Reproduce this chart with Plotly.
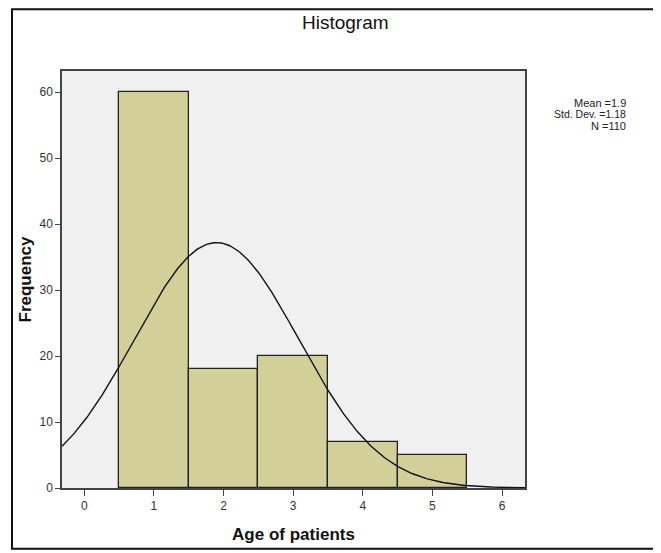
import numpy as np
import plotly.graph_objects as go

ages = [1, 2, 3, 4, 5]
freqs = [60, 18, 20, 7, 5]
mean_val = 1.9
sd_val = 1.18
n_val = 110
x_ticks = [0, 1, 2, 3, 4, 5, 6]
y_ticks = [0, 10, 20, 30, 40, 50, 60]

xr = [-0.32, 6.33]
yr = [0, 63.2]

# page offset (browser body margin) compensation
OFF = 8
W, H = 661 - OFF, 553 - OFF
PL, PR, PT, PB = 62 - OFF, 525 - OFF, 71 - OFF, 490 - OFF
pw, ph = PR - PL, PB - PT


def px(x):
    return (x - OFF - PL) / pw


def py(y):
    return (PB - (y - OFF)) / ph


xs = np.linspace(xr[0], xr[1], 300)
ys = n_val * 1.0 / (sd_val * np.sqrt(2 * np.pi)) * np.exp(-0.5 * ((xs - mean_val) / sd_val) ** 2)

fig = go.Figure()
fig.add_trace(go.Bar(x=ages, y=freqs, width=1,
                     marker=dict(color="#D3CF98", line=dict(color="#222222", width=1.3)),
                     showlegend=False))
fig.add_trace(go.Scatter(x=xs, y=ys, mode="lines", line=dict(color="#111111", width=1.4),
                         showlegend=False))

fig.update_layout(
    width=W, height=H,
    margin=dict(l=PL, r=W - PR, t=PT, b=H - PB),
    paper_bgcolor="white", plot_bgcolor="#F0F0F0",
    font=dict(family="Arial, Liberation Sans", color="#222222"),
    bargap=0,
    xaxis=dict(range=xr, tickvals=x_ticks, ticks="outside", ticklen=6, tickcolor="#444444",
               showgrid=False, zeroline=False, showline=True, linecolor="#444444", linewidth=1.5,
               mirror=True, tickfont=dict(size=12, color="#333333"),
               title=dict(text="<b>Age of patients</b>", font=dict(size=17, color="#111111"), standoff=16)),
    yaxis=dict(range=yr, tickvals=y_ticks, ticks="outside", ticklen=5, tickcolor="#444444",
               showgrid=False, zeroline=False, showline=True, linecolor="#444444", linewidth=1.5,
               mirror=True, tickfont=dict(size=12, color="#333333"),
               title=dict(text="<b>Frequency</b>", font=dict(size=17, color="#111111"), standoff=4)),
)

fig.add_annotation(xref="paper", yref="paper", x=px(345), y=py(22), text="Histogram",
                   showarrow=False, xanchor="center", yanchor="middle",
                   font=dict(size=19, color="#111111"))

stats = [("Mean =1.9", 11, 103), ("Std. Dev. =1.18", 10.5, 114), ("N =110", 11, 126)]
for txt, sz, yy in stats:
    fig.add_annotation(xref="paper", yref="paper", x=px(628), y=py(yy), text=txt,
                       showarrow=False, xanchor="right", yanchor="middle",
                       font=dict(size=sz, color="#222222"))

fig.add_shape(type="rect", xref="paper", yref="paper",
              x0=px(12), x1=px(656), y0=py(551), y1=py(9),
              line=dict(color="#111111", width=2), fillcolor="rgba(0,0,0,0)", layer="above")

fig.write_html("out.html")
